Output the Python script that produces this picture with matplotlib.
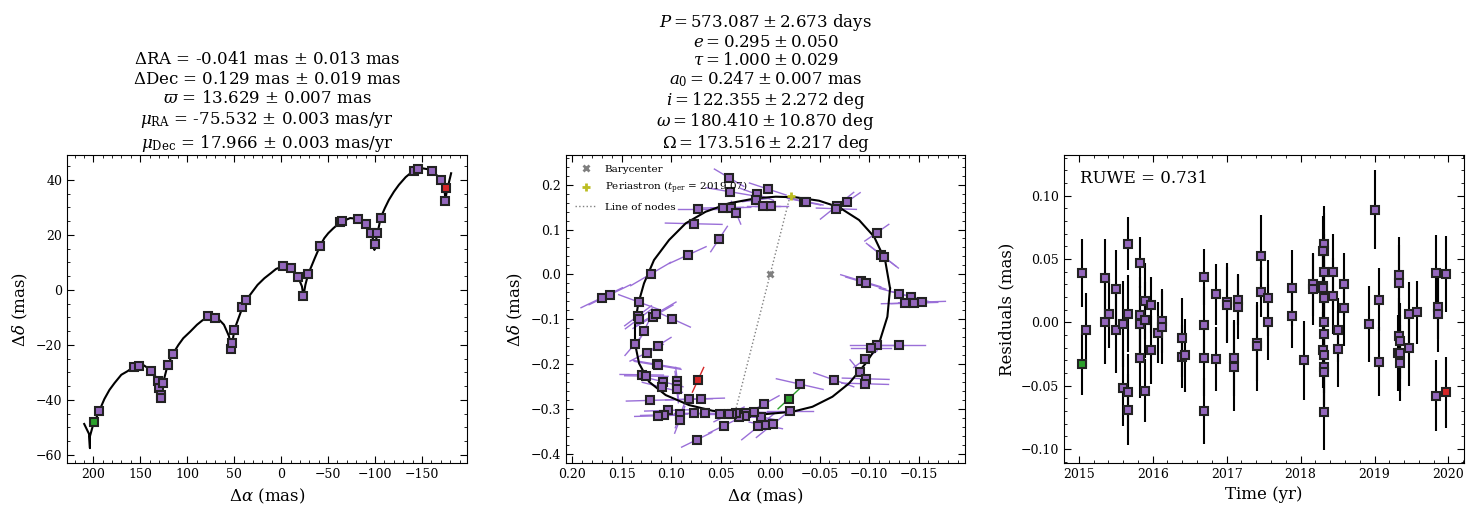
import numpy as np
import matplotlib
matplotlib.use("Agg")
import matplotlib.pyplot as plt
from matplotlib.ticker import MultipleLocator

# ---------------- data ----------------
# left panel: observed positions (mas)
obs_ra = [193.5, 157.0, 151.6, 139.0, 131.5, 129.7, 125.8, 128.3, 128.3, 120.8, 115.0,
          77.4, 69.9, 53.0, 52.0, 49.8, 41.2, 36.9, -1.8, -10.4, -18.3, -28.7, -23.7,
          -41.6, -63.1, -64.5, -81.4, -90.0, -95.7, -102.0, -99.6, -106.0, -141.0,
          -146.0, -161.0, -170.6, -175.0]
obs_dec = [-43.9, -28.0, -27.6, -29.5, -33.0, -35.6, -34.0, -38.4, -39.4, -27.3, -23.2,
           -9.7, -10.1, -21.5, -19.2, -14.5, -6.4, -3.6, 8.5, 7.8, 4.5, 5.6, -2.4,
           16.1, 24.6, 24.9, 25.8, 24.1, 20.8, 20.8, 16.7, 26.3, 43.4,
           43.8, 43.3, 39.8, 32.4]
first_ra, first_dec = 199.7, -48.2
last_ra, last_dec = -176.0, 37.2

# left panel: model sky track (mas)
track_ra = [209.7, 204.6, 203.6, 203.6, 200.7, 193.5, 188.2, 182.8, 177.4, 170.2, 163.1,
            157.0, 147.0, 139.1, 132.6, 129.0, 128.0, 126.2, 120.8, 115.1, 109.3, 104.2,
            96.8, 89.6, 84.2, 77.4, 68.1, 60.9, 55.5, 53.0, 49.8, 41.2, 36.9, 30.4, 25.1,
            17.9, 10.8, 5.4, -1.8, -10.8, -18.3, -22.2, -23.7, -25.8, -28.7, -35.8, -41.6,
            -46.0, -50.2, -55.6, -63.1, -73.5, -81.4, -90.0, -95.7, -98.6, -99.3, -101.1,
            -106.1, -110.4, -114.7, -120.1, -125.4, -132.6, -141.2, -150.5, -160.9,
            -170.6, -173.8, -174.9, -176.3, -181.0]
track_dec = [-48.8, -52.4, -57.6, -53.3, -49.7, -43.9, -39.7, -36.4, -33.9, -30.9, -29.5,
             -28.0, -27.3, -29.1, -32.1, -36.4, -39.4, -34.5, -27.3, -23.2, -20.0, -17.6,
             -15.2, -12.7, -11.2, -9.7, -10.1, -12.7, -16.9, -21.5, -14.5, -6.4, -3.6, -0.6,
             1.8, 4.2, 6.1, 7.6, 8.5, 7.8, 4.5, 1.2, -2.4, 1.8, 5.6, 11.5, 16.1,
             18.8, 20.6, 22.4, 24.6, 26.1, 25.8, 24.1, 20.8, 17.6, 14.5, 18.2,
             26.3, 29.7, 32.7, 35.7, 38.2, 41.0, 43.4, 44.2, 43.6,
             39.7, 37.0, 32.7, 35.7, 42.4]

# middle panel: orbital-motion positions (mas) and scan-direction half extents
orb_x = [0.0414, 0.0407, 0.0134, 0.0144, 0.0023, 0.0730, 0.0472, 0.0397, 0.0343, 0.0068,
         -0.0013, -0.0343, -0.0367, -0.0677, -0.0775, -0.0670, -0.1078, -0.1121, -0.1148,
         -0.0916, -0.0966, -0.1306, -0.1421, -0.1361, -0.1458, -0.1535, -0.1300, -0.1078,
         -0.1017, -0.0963, -0.0909, -0.0966, -0.0960, -0.0643, -0.0300, -0.0202, 0.0061,
         0.0118, 0.0043, -0.0030, 0.0094, 0.0162, 0.0239, 0.0253, 0.0310, 0.0343, 0.0381,
         0.0414, 0.0508, 0.0468, 0.0660, 0.0771, 0.0741, 0.0906, 0.0912, 0.1030, 0.1071,
         0.1131, 0.1215, 0.0818, 0.0697, 0.1081, 0.1088, 0.0936, 0.0943, 0.0943, 0.1296,
         0.1249, 0.1145, 0.1135, 0.1364, 0.1135, 0.1246, 0.1273, 0.1333, 0.1326, 0.1182,
         0.1152, 0.0990, 0.1326, 0.1700, 0.1619, 0.1205, 0.0831, 0.0515, 0.0771]
orb_y = [0.2156, 0.1844, 0.1786, 0.1658, 0.1904, 0.1458, 0.1487, 0.1487, 0.1375, 0.1531,
         0.1531, 0.1621, 0.1621, 0.1531, 0.1614, 0.1464, 0.0929, 0.0438, 0.0393,
         -0.0143, -0.0194, -0.0433, -0.0500, -0.0641, -0.0641, -0.0618, -0.1571, -0.1578,
         -0.1645, -0.1891, -0.2174, -0.2330, -0.2442, -0.2353, -0.2449, -0.3045, -0.2895,
         -0.3393, -0.3371, -0.3342, -0.3179, -0.3074, -0.3089, -0.3156, -0.3179, -0.3103,
         -0.3125, -0.3125, -0.3112, -0.3379, -0.3089, -0.3089, -0.3692, -0.3125, -0.3246,
         -0.3036, -0.3134, -0.3156, -0.2813, -0.2790, -0.2777, -0.2397, -0.2522, -0.2375,
         -0.2464, -0.2567, -0.2241, -0.2270, -0.2009, -0.2031, -0.1549, -0.1594, -0.1750,
         -0.1259, -0.0924, -0.0991, -0.0946, -0.0879, -0.0991, -0.0618, -0.0522, -0.0455,
         0.0007, 0.0431, 0.0788, 0.1129]
scan_dx = [0.0148, 0.0236, 0.0168, 0.0135, 0.0185, 0.0202, 0.0202, 0.0202, 0.0047, 0.0168,
           0.0168, 0.0168, 0.0168, 0.0168, 0.0135, 0.0202, 0.0121, 0.0148, 0.0148,
           0.0202, 0.0202, 0.0202, 0.0202, 0.0236, 0.0236, 0.0236, 0.0269, 0.0269,
           0.0202, 0.0118, 0.0101, 0.0236, 0.0236, 0.0202, 0.0236, 0.0236, 0.0152,
           0.0168, 0.0168, 0.0168, 0.0168, 0.0202, 0.0202, 0.0202, 0.0202, 0.0202,
           0.0202, 0.0152, 0.0202, 0.0152, 0.0202, 0.0202, 0.0152, 0.0051, 0.0051,
           0.0236, 0.0236, 0.0236, 0.0236, 0.0236, 0.0236, 0.0202, 0.0202, 0.0017,
           0.0017, 0.0017, 0.0219, 0.0219, 0.0236, 0.0236, 0.0101, 0.0135, 0.0168,
           0.0067, 0.0135, 0.0135, 0.0202, 0.0202, 0.0185, 0.0202, 0.0209, 0.0209,
           0.0202, 0.0185, 0.0084, 0.0286]
scan_dy = [0.0193, 0.0089, 0.0134, -0.0037, 0.0134, 0.0, -0.0007, -0.0007, 0.0253, 0.0,
           0.0, 0.0074, 0.0074, -0.0298, -0.0208, 0.0015, -0.0186, 0.0253, 0.0253,
           0.0134, 0.0134, 0.0119, 0.0119, -0.0015, -0.0015, -0.0015, 0.0, 0.0,
           0.0, -0.0186, 0.0268, 0.0015, 0.0015, 0.0156, 0.0119, 0.0, -0.0186,
           -0.0298, 0.0074, -0.0298, 0.0074, 0.0015, 0.0015, 0.0015, 0.0015, 0.0015,
           0.0015, -0.0164, 0.0, -0.0164, 0.0, 0.0, -0.0164, -0.0298, -0.0298,
           -0.0015, -0.0015, -0.0015, -0.0015, -0.0015, -0.0015, 0.0112, 0.0112, 0.0298,
           0.0298, 0.0298, 0.0007, 0.0007, 0.0089, 0.0089, -0.0260, -0.0186, -0.0186,
           -0.0298, -0.0223, -0.0223, -0.0260, -0.0260, 0.0186, 0.0164, -0.0223, -0.0223,
           -0.0260, -0.0186, -0.0283, 0.0015]
orb_first = (-0.0189, -0.2777, 0.0108, -0.0223)   # x, y, scan dx, scan dy
orb_last = (0.0727, -0.2353, 0.0057, -0.0275)

# middle panel: fitted orbit, barycentre, periastron, line of nodes
ell_x = [-0.1212, -0.1185, -0.1101, -0.0966, -0.0798, -0.0630, -0.0428, -0.0226, 0.0043,
         0.0313, 0.0582, 0.0818, 0.1054, 0.1222, 0.1323, 0.1364, 0.1364, 0.1330, 0.1273,
         0.1172, 0.1020, 0.0852, 0.0650, 0.0414, 0.0145, -0.0057, -0.0259, -0.0495,
         -0.0697, -0.0899, -0.1051, -0.1162, -0.1212]
ell_y = [-0.0313, -0.0946, -0.1540, -0.1987, -0.2433, -0.2731, -0.2955, -0.3066, -0.3118,
         -0.3103, -0.3044, -0.2917, -0.2694, -0.2397, -0.1987, -0.1540, -0.1094, -0.0647,
         -0.0201, 0.0319, 0.0766, 0.1138, 0.1397, 0.1585, 0.1696, 0.1732, 0.1719, 0.1643,
         0.1496, 0.1212, 0.0839, 0.0319, -0.0313]
bary = (0.0, 0.0)
peri = (-0.021, 0.175)
nodes_x = [-0.0192, 0.0343]
nodes_y = [0.166, -0.299]

# right panel: residuals (yr, mas, mas)
res_t = [2015.04, 2015.10, 2015.35, 2015.35, 2015.41, 2015.50, 2015.50, 2015.60, 2015.60,
         2015.67, 2015.67, 2015.67, 2015.67, 2015.83, 2015.83, 2015.83, 2015.83, 2015.89,
         2015.89, 2015.89, 2015.98, 2015.98, 2016.07, 2016.12, 2016.12, 2016.39, 2016.39,
         2016.44, 2016.69, 2016.69, 2016.69, 2016.69, 2016.86, 2016.86, 2017.01, 2017.01,
         2017.10, 2017.10, 2017.15, 2017.15, 2017.41, 2017.41, 2017.47, 2017.47, 2017.56,
         2017.56, 2017.88, 2017.88, 2018.04, 2018.17, 2018.17, 2018.31, 2018.31, 2018.30,
         2018.31, 2018.30, 2018.30, 2018.31, 2018.32, 2018.32, 2018.30, 2018.32, 2018.32,
         2018.31, 2018.32, 2018.44, 2018.44, 2018.51, 2018.51, 2018.59, 2018.59, 2018.92,
         2019.00, 2019.06, 2019.06, 2019.33, 2019.33, 2019.33, 2019.34, 2019.32, 2019.35,
         2019.35, 2019.46, 2019.46, 2019.58, 2019.83, 2019.86, 2019.86, 2019.83, 2019.97]
res_val = [0.039, -0.006, 0.035, 0.000, 0.007, 0.026, -0.006, -0.001, -0.052,
           0.062, 0.007, -0.055, -0.069, 0.047, 0.006, -0.001, -0.028, 0.017,
           0.002, -0.054, 0.014, -0.022, -0.008, 0.001, -0.004, -0.012, -0.027,
           -0.026, 0.036, -0.002, -0.028, -0.070, 0.022, -0.029, 0.016, 0.014,
           -0.028, -0.035, 0.018, 0.012, -0.016, -0.019, 0.052, 0.024, 0.019,
           0.000, 0.027, 0.005, -0.030, 0.030, 0.026, 0.062, 0.056, 0.056,
           0.040, 0.029, 0.027, 0.019, 0.000, -0.009, -0.022, -0.026, -0.035,
           -0.039, -0.071, 0.040, 0.021, -0.006, -0.021, 0.030, 0.011, -0.001,
           0.089, 0.018, -0.031, 0.037, 0.031, -0.011, -0.015, -0.024, -0.024,
           -0.032, 0.007, -0.020, 0.008, 0.039, 0.012, 0.007, -0.058, 0.038]
res_err = [0.027, 0.029, 0.031, 0.033, 0.027, 0.031, 0.034, 0.034, 0.030,
           0.021, 0.030, 0.030, 0.028, 0.020, 0.030, 0.030, 0.032, 0.030,
           0.030, 0.025, 0.022, 0.027, 0.024, 0.025, 0.029, 0.031, 0.025,
           0.029, 0.022, 0.030, 0.030, 0.026, 0.024, 0.025, 0.031, 0.030,
           0.030, 0.035, 0.020, 0.025, 0.030, 0.035, 0.033, 0.020, 0.030,
           0.030, 0.030, 0.025, 0.031, 0.025, 0.028, 0.030, 0.030, 0.028,
           0.030, 0.030, 0.030, 0.030, 0.030, 0.030, 0.030, 0.030, 0.030,
           0.030, 0.030, 0.030, 0.030, 0.025, 0.030, 0.025, 0.030, 0.030,
           0.031, 0.025, 0.027, 0.030, 0.030, 0.030, 0.030, 0.030, 0.030,
           0.030, 0.025, 0.030, 0.025, 0.030, 0.025, 0.030, 0.028, 0.030]
res_first = (2015.04, -0.033, 0.024)
res_last = (2019.97, -0.055, 0.028)

ruwe = 0.731
left_title = ("$\\Delta$RA = -0.041 mas $\\pm$ 0.013 mas\n"
              "$\\Delta$Dec = 0.129 mas $\\pm$ 0.019 mas\n"
              "$\\varpi$ = 13.629 $\\pm$ 0.007 mas\n"
              "$\\mu_{\\rm RA}$ = -75.532 $\\pm$ 0.003 mas/yr\n"
              "$\\mu_{\\rm Dec}$ = 17.966 $\\pm$ 0.003 mas/yr")
mid_title = ("$P = 573.087 \\pm 2.673$ days\n"
             "$e = 0.295 \\pm 0.050$\n"
             "$\\tau = 1.000 \\pm 0.029$\n"
             "$a_0 = 0.247 \\pm 0.007$ mas\n"
             "$i = 122.355 \\pm 2.272$ deg\n"
             "$\\omega = 180.410 \\pm 10.870$ deg\n"
             "$\\Omega = 173.516 \\pm 2.217$ deg")

# ---------------- style ----------------
plt.rcParams['font.family'] = 'DejaVu Serif'
plt.rcParams['mathtext.fontset'] = 'dejavuserif'
plt.rcParams['xtick.direction'] = 'in'
plt.rcParams['ytick.direction'] = 'in'
plt.rcParams['xtick.top'] = True
plt.rcParams['ytick.right'] = True
plt.rcParams['xtick.labelsize'] = 9
plt.rcParams['ytick.labelsize'] = 9
plt.rcParams['axes.labelsize'] = 12

purple = '#9467bd'
sq = dict(marker='s', ms=5.5, mec='#222222', mew=1.5, ls='none', zorder=5)

fig = plt.figure(figsize=(14.73, 5.14), dpi=100)
ax1 = fig.add_axes([0.0455, 0.0992, 0.2716, 0.599])
ax2 = fig.add_axes([0.3843, 0.0992, 0.2709, 0.599])
ax3 = fig.add_axes([0.7223, 0.0992, 0.2716, 0.599])

# left: sky track
ax1.plot(track_ra, track_dec, color='k', lw=1.5, zorder=2)
ax1.plot(obs_ra, obs_dec, mfc=purple, **sq)
ax1.plot(first_ra, first_dec, mfc='#2ca02c', **sq)
ax1.plot(last_ra, last_dec, mfc='#d62728', **sq)
ax1.set_xlim(228, -198)
ax1.set_ylim(-63, 49)
ax1.xaxis.set_major_locator(MultipleLocator(50))
ax1.xaxis.set_minor_locator(MultipleLocator(10))
ax1.yaxis.set_major_locator(MultipleLocator(20))
ax1.yaxis.set_minor_locator(MultipleLocator(5))
ax1.set_xlabel("$\\Delta\\alpha$ (mas)")
ax1.set_ylabel("$\\Delta\\delta$ (mas)")
ax1.set_title(left_title, fontsize=12, pad=5)

# middle: orbit
ax2.plot(ell_x, ell_y, color='k', lw=1.5, zorder=3)
for x, y, dx, dy in zip(orb_x, orb_y, scan_dx, scan_dy):
    ax2.plot([x - dx, x + dx], [y - dy, y + dy], color='#9a6fd8', lw=1, zorder=2)
for (x, y, dx, dy), c in [(orb_first, '#2ca02c'), (orb_last, '#d62728')]:
    ax2.plot([x - dx, x + dx], [y - dy, y + dy], color=c, lw=1, zorder=2)
ax2.plot(orb_x, orb_y, mfc=purple, **sq)
ax2.plot(orb_first[0], orb_first[1], mfc='#2ca02c', **sq)
ax2.plot(orb_last[0], orb_last[1], mfc='#d62728', **sq)
ax2.plot(*bary, marker='x', color='#808080', ms=5, mew=2, ls='none', label='Barycenter', zorder=6)
ax2.plot(*peri, marker='+', color='#bcbd22', ms=6, mew=2, ls='none',
         label='Periastron ($t_{\\rm per}$ = 2019.07)', zorder=6)
ax2.plot(nodes_x, nodes_y, color='gray', ls=':', lw=1, label='Line of nodes', zorder=1)
ax2.set_xlim(0.206, -0.197)
ax2.set_ylim(-0.421, 0.266)
ax2.xaxis.set_major_locator(MultipleLocator(0.05))
ax2.xaxis.set_minor_locator(MultipleLocator(0.01))
ax2.yaxis.set_major_locator(MultipleLocator(0.1))
ax2.yaxis.set_minor_locator(MultipleLocator(0.02))
ax2.set_xlabel("$\\Delta\\alpha$ (mas)")
ax2.set_ylabel("$\\Delta\\delta$ (mas)")
ax2.set_title(mid_title, fontsize=12, linespacing=1.05, pad=5)
ax2.legend(loc='upper left', frameon=False, fontsize=7.5, handlelength=2,
           borderaxespad=0.5, labelspacing=0.6)

# right: residuals
ax3.errorbar(res_t, res_val, yerr=res_err, fmt='s', ms=5.5, mfc=purple, mec='#222222',
             mew=1.5, ecolor='k', elinewidth=1.5, capsize=0, zorder=5)
ax3.errorbar(res_first[0], res_first[1], yerr=res_first[2], fmt='s', ms=5.5, mfc='#2ca02c',
             mec='#222222', mew=1.5, ecolor='k', elinewidth=1.5, capsize=0, zorder=5)
ax3.errorbar(res_last[0], res_last[1], yerr=res_last[2], fmt='s', ms=5.5, mfc='#d62728',
             mec='#222222', mew=1.5, ecolor='k', elinewidth=1.5, capsize=0, zorder=5)
ax3.text(0.04, 0.925, "RUWE = %.3f" % ruwe, transform=ax3.transAxes, fontsize=12, va='center')
ax3.set_xlim(2014.80, 2020.21)
ax3.set_ylim(-0.111, 0.132)
ax3.xaxis.set_major_locator(MultipleLocator(1))
ax3.xaxis.set_minor_locator(MultipleLocator(0.2))
ax3.yaxis.set_major_locator(MultipleLocator(0.05))
ax3.yaxis.set_minor_locator(MultipleLocator(0.01))
ax3.set_xlabel("Time (yr)")
ax3.set_ylabel("Residuals (mas)")

for ax in (ax1, ax2, ax3):
    ax.tick_params(which='major', length=5)
    ax.tick_params(which='minor', length=2.5)

fig.savefig("out.png", dpi=100)
